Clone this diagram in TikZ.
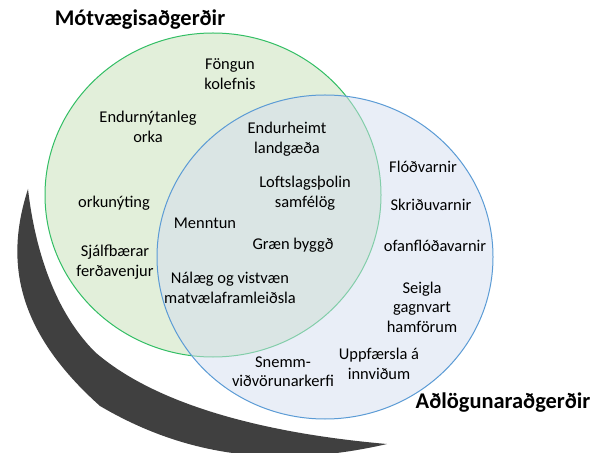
\documentclass[tikz,border=0pt]{standalone}
\usepackage{fontspec}
\setmainfont{Carlito}
\usepackage{tikz}

\definecolor{setgreen}{RGB}{226,239,218}
\definecolor{linegreen}{RGB}{50,190,100}
\definecolor{setblue}{RGB}{211,221,239}
\definecolor{lineblue}{RGB}{91,155,213}
\definecolor{shadowgray}{RGB}{64,64,64}

\begin{document}
\begin{tikzpicture}[x=1bp, y=-1bp,
    item/.style={align=center, font=\fontsize{16.5}{19.5}\selectfont, inner sep=0pt},
    title/.style={font=\fontsize{22.5}{26}\selectfont\bfseries, inner sep=0pt}]

  \useasboundingbox (0,0) rectangle (599,453);

  % shadow
  \fill [shadowgray] (28,189) .. controls (5,260) and (15,330) .. (100,406)
    .. controls (175,450) and (265,472) .. (387,444)
    .. controls (250,432) and (150,400) .. (95,352)
    .. controls (55,312) and (35,250) .. (28,189) -- cycle;

  % sets
  \draw [linegreen, fill=setgreen, line width=1bp] (213,195) ellipse [x radius=168, y radius=162];
  \draw [lineblue, fill=setblue, fill opacity=0.5, line width=1bp] (325,257) ellipse [x radius=168, y radius=162];

  % titles
  \node [title] (mitig) at (140,20) {Mótvægisaðgerðir};
  \node [title] (adapt) at (503,403) {Aðlögunaraðgerðir};

  % green set
  \node [item] (capture) at (230,74) {Föngun\\kolefnis};
  \node [item] (renew) at (148,127) {Endurnýtanleg\\orka};
  \node [item] (effic) at (114,203) {orkunýting};
  \node [item] (travel) at (115,262) {Sjálfbærar\\ferðavenjur};

  % both sets
  \node [item] (restore) at (287,139) {Endurheimt\\landgæða};
  \node [item] (resil) at (305,193) {Loftslagsþolin\\samfélög};
  \node [item] (educ) at (205,223) {Menntun};
  \node [item] (build) at (293,245) {Græn byggð};
  \node [item] (food) at (230,288) {Nálæg og vistvæn\\matvælaframleiðsla};

  % blue set
  \node [item] (flood) at (423,167) {Flóðvarnir};
  \node [item] (slide) at (431,205) {Skriðuvarnir};
  \node [item] (aval) at (435,246) {ofanflóðavarnir};
  \node [item] (hazard) at (422,307) {Seigla\\gagnvart\\hamförum};
  \node [item] (infra) at (379,364) {Uppfærsla á\\innviðum};
  \node [item] (warn) at (283,372) {Snemm-\\viðvörunarkerfi};

\end{tikzpicture}
\end{document}
